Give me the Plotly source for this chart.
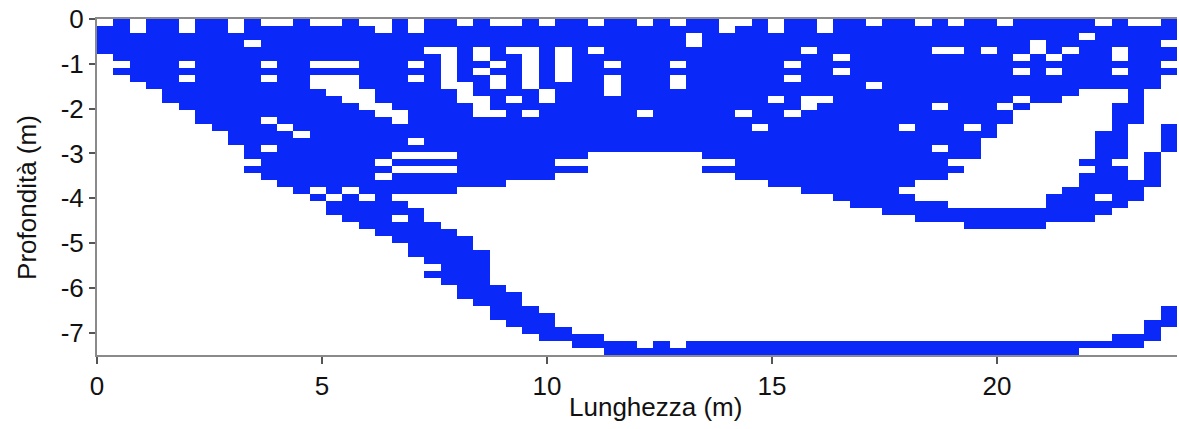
import plotly.graph_objects as go

# Grid of the coverage map (columns along length, rows along depth)
N_COLS = 66
N_ROWS = 48
LENGTH_M = 24.0
DEPTH_M = 7.5

# Blue (covered) cells per column, as inclusive row runs counted from the surface
COVERAGE_RUNS = [
    "1-4", "0-5,7", "2-8", "0-9", "0-11", "2-5,7,9-12", "0-14", "0-15", "2-17",
    "0-2,4-19,21", "1-5,7,9-13,15-17,19-22", "1-14,16-23", "0-15,17-24",
    "1-5,7,10-23,25", "1-5,7,11-24,26-27", "0-5,7,12-23,25-28", "1-9,13-24,26-29",
    "2-11,14-19,21,23-30", "0-12,15-18,20,22-24,26-27,29-31",
    "2-5,7,9-16,18,20,22-24,27-33", "0-3,5-18,20,22-24,29-34,36",
    "0-3,10-18,20,22-24,30-37", "1-8,12-23,31-39", "0-3,6,8-10,14-23,33-40",
    "1-5,7,10-12,14-23,38-42", "1-3,5-10,12-22,39-43", "0-3,10-12,14-22,41-44",
    "1-9,12-22,42-45", "0-3,9-19,21,44-45", "0-19,21,45-46", "1-3,5-18,45-46",
    "0-5,7,11-18,46-47", "0-18,46-47", "1-12,14-18,47", "0-18,46-47",
    "1-5,7,10-18,47", "0-1,4-18,46-47", "0-19,21,46-47", "2-19,21,46-47",
    "1-12,14-22,46-47", "0-14,16-22,46-47", "2-10,12-23,46-47",
    "0-5,7,9-12,14-23,46-47", "0-3,5-10,13-24,46-47", "2-10,12-24,46-47",
    "0-4,6,8-25,46-47", "0-26,46-47", "1-8,10-26,46-47", "0-27,46-47",
    "0-14,16-23,25-27,46-47", "1-22,26-28,46-47", "0-3,5-11,13-17,19-22,26-28,46-47",
    "1-3,5-19,21,27-28,46-47", "0-14,16-19,27-29,46-47", "0-3,5-16,27-29,46-47",
    "1-11,13-14,27-29,46-47", "0-4,6,8-10,12,27-29,46-47", "0-2,5-11,27-29,46-47",
    "0-4,6,8-11,25-28,46-47", "0-3,5-10,24-28,46-47", "0-1,3-9,20,22-28,46",
    "1-9,16-24,26-27,46", "0-3,6,8-9,12-19,21-26,45-46", "1-14,23-25,45-46",
    "1-9,19-23,43-45", "0-2,4-5,7,15-18,41-43",
]

X_TICKS = [0, 5, 10, 15, 20]
Y_TICKS = [0, -1, -2, -3, -4, -5, -6, -7]
Y_TICK_TEXT = ["0", "-1", "-2", "-3", "-4", "-5", "-6", "-7"]
X_TITLE = "Lunghezza (m)"
Y_TITLE = "Profondità (m)"

z = [[0] * N_COLS for _ in range(N_ROWS)]
for c, spec in enumerate(COVERAGE_RUNS):
    for part in spec.split(","):
        part = part.strip()
        if "-" in part:
            a, b = (int(v) for v in part.split("-"))
        else:
            a = b = int(part)
        for r in range(a, b + 1):
            z[r][c] = 1

dx = LENGTH_M / N_COLS
dy = DEPTH_M / N_ROWS
xs = [(k + 0.5) * dx for k in range(N_COLS)]
ys = [-(r + 0.5) * dy for r in range(N_ROWS)]

BLUE = "#0a28f8"
AXIS = "#8a8a8a"
FONT = "Liberation Sans, Arial, sans-serif"

fig = go.Figure(go.Heatmap(
    z=z, x=xs, y=ys, zmin=0, zmax=1,
    colorscale=[[0, "#ffffff"], [1, BLUE]],
    showscale=False, hoverinfo="skip", zsmooth=False,
))

fig.update_layout(
    width=1179, height=429,
    margin=dict(l=97, r=2, t=19, b=74),
    paper_bgcolor="white", plot_bgcolor="white",
    font=dict(family=FONT, size=26, color="#111111"),
    showlegend=False,
    xaxis=dict(range=[0, LENGTH_M], tickvals=X_TICKS, ticks="outside", ticklen=7,
               tickwidth=1.5, tickcolor="#555555", showline=True, linecolor=AXIS,
               linewidth=2, mirror=True, showgrid=False, zeroline=False,
               automargin=False, ticklabeloverflow="allow", tickfont=dict(size=26)),
    yaxis=dict(range=[-DEPTH_M, 0], tickvals=Y_TICKS, ticktext=Y_TICK_TEXT,
               ticks="outside", ticklen=6, tickwidth=1.5, tickcolor="#555555",
               showline=True, linecolor=AXIS, linewidth=2, showgrid=False,
               zeroline=False, automargin=False, ticklabeloverflow="allow",
               tickfont=dict(size=26)),
    annotations=[
        dict(text=X_TITLE, xref="paper", yref="paper", x=0.517, y=-0.155,
             xanchor="center", yanchor="middle", showarrow=False,
             font=dict(size=26)),
        dict(text=Y_TITLE, xref="paper", yref="paper", x=-0.065, y=0.47,
             xanchor="center", yanchor="middle", showarrow=False, textangle=-90,
             font=dict(size=26)),
    ],
)

# place the figure flush with the window's top-left corner, no toolbar
fig.write_html("out.html", config={"displayModeBar": False},
               post_script="document.body.style.margin='0px';")
